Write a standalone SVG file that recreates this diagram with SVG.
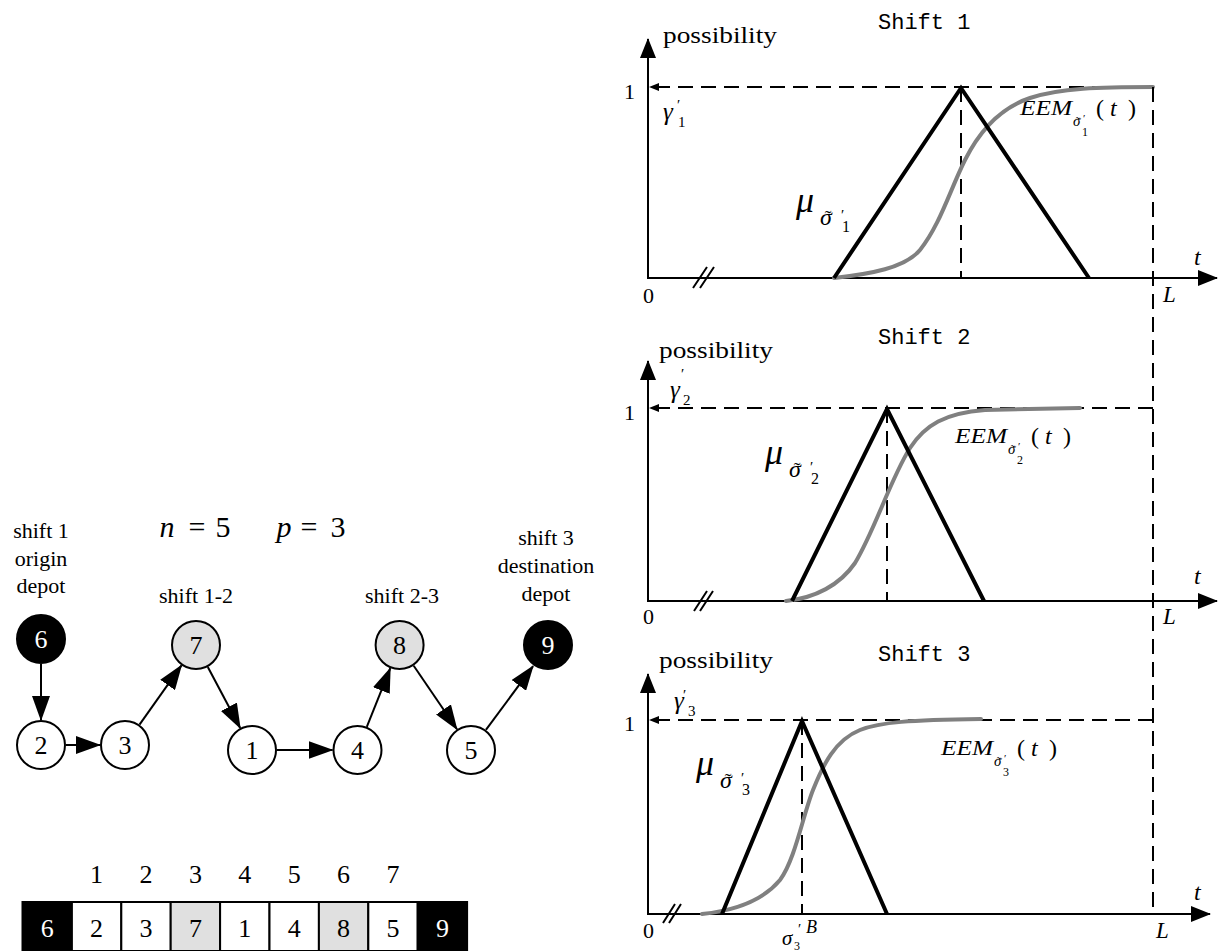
<svg xmlns="http://www.w3.org/2000/svg" width="1219" height="951" viewBox="0 0 1219 951">
<defs>
<style>
.axis{stroke:#000;stroke-width:2;fill:none}
.dash{stroke:#000;stroke-width:2;fill:none;stroke-dasharray:15 8}
.tri{stroke:#000;stroke-width:4;fill:none;stroke-linejoin:miter}
.eem{stroke:#808080;stroke-width:4;fill:none;stroke-linecap:round}
.edge{stroke:#000;stroke-width:2;fill:none}
.node{stroke:#000;stroke-width:2}
.cell{stroke:#000;stroke-width:2}
</style>
<marker id="ga" markerUnits="userSpaceOnUse" markerWidth="25" markerHeight="18" refX="24" refY="9" orient="auto"><path d="M0,0 L25,9 L0,18 z" fill="#000"/></marker>
<marker id="aa" markerUnits="userSpaceOnUse" markerWidth="20" markerHeight="16" refX="19" refY="8" orient="auto"><path d="M0,0 L20,8 L0,16 z" fill="#000"/></marker>
<marker id="sa" markerUnits="userSpaceOnUse" markerWidth="10" markerHeight="8" refX="9" refY="4" orient="auto"><path d="M0,0 L10,4 L0,8 z" fill="#000"/></marker>
</defs>
<rect width="1219" height="951" fill="#fff"/>

<g font-family="Liberation Serif, DejaVu Serif, Times New Roman, serif" fill="#000">

<!-- Plot 1 -->
<g id="plot1">
<text font-family="Liberation Mono, DejaVu Sans Mono, monospace" x="878" y="29" font-size="22">Shift 1</text>
<text x="663" y="43" font-size="24" textLength="114" lengthAdjust="spacingAndGlyphs">possibility</text>
<text x="624" y="99" font-size="22">1</text>
<text x="643" y="303" font-size="22">0</text>
<text font-style="italic" x="1194" y="265" font-size="24">t</text>
<text font-style="italic" x="1163" y="302" font-size="23">L</text>
<text font-style="italic" x="663" y="120" font-size="25">γ</text>
<text x="677" y="110" font-size="15">′</text>
<text x="678" y="127" font-size="15">1</text>
<text font-style="italic" x="796" y="212" font-size="36">μ</text>
<text font-style="italic" x="820" y="225" font-size="24">σ</text>
<text x="828" y="225" font-size="20" text-anchor="middle">˜</text>
<text x="841" y="220" font-size="15">′</text>
<text x="842" y="232" font-size="16">1</text>
<text font-style="italic" x="1020" y="115" font-size="21" textLength="52" lengthAdjust="spacingAndGlyphs">EEM</text>
<text font-style="italic" x="1073" y="126" font-size="15">σ</text>
<text x="1078" y="126" font-size="13" text-anchor="middle">˜</text>
<text x="1083" y="122" font-size="11">′</text>
<text x="1082" y="136" font-size="12">1</text>
<text x="1096" y="116" font-size="24">(</text>
<text font-style="italic" x="1110" y="116" font-size="24">t</text>
<text x="1128" y="116" font-size="24">)</text>
<line class="axis" x1="648" y1="279" x2="648" y2="39" marker-end="url(#aa)"/>
<line class="axis" x1="647" y1="278" x2="1217" y2="278" marker-end="url(#aa)"/>
<path class="axis" d="M693,288 L707,267 M700,288 L714,267"/>
<line class="dash" x1="1153" y1="87" x2="650" y2="87" marker-end="url(#sa)"/>
<line class="dash" x1="961" y1="87" x2="961" y2="278"/>
<path class="eem" d="M834,278 C870,274 905,268 920,250 C940,225 950,190 965,160 C980,130 1000,108 1030,98 C1060,88 1100,87 1153,87"/>
<path class="tri" d="M834,278 L961,88 L1089,278"/>
</g>

<!-- Plot 2 -->
<g id="plot2">
<text font-family="Liberation Mono, DejaVu Sans Mono, monospace" x="878" y="344" font-size="22">Shift 2</text>
<text x="659" y="358" font-size="24" textLength="114" lengthAdjust="spacingAndGlyphs">possibility</text>
<text x="624" y="420" font-size="22">1</text>
<text x="643" y="624" font-size="22">0</text>
<text font-style="italic" x="1194" y="584" font-size="24">t</text>
<text font-style="italic" x="1163" y="624" font-size="23">L</text>
<text font-style="italic" x="670" y="398" font-size="25">γ</text>
<text x="681" y="379" font-size="15">′</text>
<text x="683" y="405" font-size="15">2</text>
<text font-style="italic" x="765" y="464" font-size="36">μ</text>
<text font-style="italic" x="789" y="477" font-size="24">σ</text>
<text x="797" y="477" font-size="20" text-anchor="middle">˜</text>
<text x="810" y="472" font-size="15">′</text>
<text x="811" y="484" font-size="16">2</text>
<text font-style="italic" x="955" y="443" font-size="21" textLength="52" lengthAdjust="spacingAndGlyphs">EEM</text>
<text font-style="italic" x="1008" y="454" font-size="15">σ</text>
<text x="1013" y="454" font-size="13" text-anchor="middle">˜</text>
<text x="1018" y="450" font-size="11">′</text>
<text x="1017" y="464" font-size="12">2</text>
<text x="1031" y="444" font-size="24">(</text>
<text font-style="italic" x="1045" y="444" font-size="24">t</text>
<text x="1063" y="444" font-size="24">)</text>
<line class="axis" x1="648" y1="602" x2="648" y2="361" marker-end="url(#aa)"/>
<line class="axis" x1="647" y1="601" x2="1217" y2="601" marker-end="url(#aa)"/>
<path class="axis" d="M694,611 L707,591 M700,611 L713,591"/>
<line class="dash" x1="1153" y1="408" x2="650" y2="408" marker-end="url(#sa)"/>
<line class="dash" x1="887" y1="408" x2="887" y2="601"/>
<path class="eem" d="M786,601 C815,598 840,585 855,563 C875,530 890,480 910,448 C925,425 945,413 985,410 L1080,408"/>
<path class="tri" d="M792,601 L887,409 L984,601"/>
</g>

<!-- Plot 3 -->
<g id="plot3">
<text font-family="Liberation Mono, DejaVu Sans Mono, monospace" x="878" y="661" font-size="22">Shift 3</text>
<text x="659" y="668" font-size="24" textLength="114" lengthAdjust="spacingAndGlyphs">possibility</text>
<text x="624" y="731" font-size="22">1</text>
<text x="643" y="938" font-size="22">0</text>
<text font-style="italic" x="1194" y="900" font-size="24">t</text>
<text font-style="italic" x="1156" y="938" font-size="23">L</text>
<text font-style="italic" x="674" y="709" font-size="25">γ</text>
<text x="683" y="700" font-size="15">′</text>
<text x="688" y="716" font-size="15">3</text>
<text font-style="italic" x="696" y="775" font-size="36">μ</text>
<text font-style="italic" x="720" y="788" font-size="24">σ</text>
<text x="728" y="788" font-size="20" text-anchor="middle">˜</text>
<text x="741" y="783" font-size="15">′</text>
<text x="742" y="795" font-size="16">3</text>
<text font-style="italic" x="941" y="755" font-size="21" textLength="52" lengthAdjust="spacingAndGlyphs">EEM</text>
<text font-style="italic" x="994" y="766" font-size="15">σ</text>
<text x="999" y="766" font-size="13" text-anchor="middle">˜</text>
<text x="1004" y="762" font-size="11">′</text>
<text x="1003" y="776" font-size="12">3</text>
<text x="1017" y="756" font-size="24">(</text>
<text font-style="italic" x="1031" y="756" font-size="24">t</text>
<text x="1049" y="756" font-size="24">)</text>
<text font-style="italic" x="782" y="945" font-size="21">σ</text>
<text x="794" y="950" font-size="12">3</text>
<text x="798" y="934" font-size="15">′</text>
<text font-style="italic" x="806" y="933" font-size="18">B</text>
<line class="axis" x1="648" y1="915" x2="648" y2="674" marker-end="url(#aa)"/>
<line class="axis" x1="647" y1="914" x2="1210" y2="914" marker-end="url(#aa)"/>
<path class="axis" d="M663,923 L675,904 M669,923 L681,904"/>
<line class="dash" x1="1153" y1="720" x2="650" y2="720" marker-end="url(#sa)"/>
<line class="dash" x1="802" y1="720" x2="802" y2="914"/>
<path class="eem" d="M702,914 C740,910 765,898 780,880 C795,860 803,815 813,790 C823,765 835,740 860,730 C880,722 910,720 981,719"/>
<path class="tri" d="M722,914 L802,721 L887,914"/>
</g>

<!-- shared L line -->
<g id="limit">
<line class="dash" x1="1153" y1="87" x2="1153" y2="914"/>
</g>

<!-- graph labels -->
<g id="labels" font-size="22" text-anchor="middle">
<text x="41" y="538">shift 1</text>
<text x="41" y="566">origin</text>
<text x="41" y="593">depot</text>
<text x="546" y="545">shift 3</text>
<text x="546" y="573">destination</text>
<text x="546" y="601">depot</text>
<text x="196" y="603">shift 1-2</text>
<text x="402" y="603">shift 2-3</text>
<text font-size="30" x="167" y="537" font-style="italic">n</text>
<text font-size="30" x="197" y="537">=</text>
<text font-size="30" x="223" y="537">5</text>
<text font-size="30" x="284" y="537" font-style="italic">p</text>
<text font-size="30" x="309" y="537">=</text>
<text font-size="30" x="338" y="537">3</text>
</g>

<!-- connectors -->
<g id="connectors">
<line class="edge" x1="41" y1="664" x2="41" y2="720" marker-end="url(#ga)"/>
<line class="edge" x1="66" y1="745" x2="100" y2="745" marker-end="url(#ga)"/>
<line class="edge" x1="139.5" y1="724.6" x2="181.5" y2="665.4" marker-end="url(#ga)"/>
<line class="edge" x1="207.8" y1="667" x2="240.2" y2="728" marker-end="url(#ga)"/>
<line class="edge" x1="277" y1="750" x2="332.5" y2="750" marker-end="url(#ga)"/>
<line class="edge" x1="366.8" y1="726.8" x2="390.3" y2="668.2" marker-end="url(#ga)"/>
<line class="edge" x1="413.7" y1="665.7" x2="457" y2="729.3" marker-end="url(#ga)"/>
<line class="edge" x1="485.9" y1="729.9" x2="533.1" y2="666.1" marker-end="url(#ga)"/>
</g>

<!-- nodes -->
<g font-size="26" text-anchor="middle">
<g id="node6"><circle class="node" cx="41" cy="639" r="24" fill="#000"/><text x="41" y="648" fill="#fff">6</text></g>
<g id="node2"><circle class="node" cx="41" cy="745" r="24" fill="#fff"/><text x="41" y="754">2</text></g>
<g id="node3"><circle class="node" cx="125" cy="745" r="24" fill="#fff"/><text x="125" y="754">3</text></g>
<g id="node7"><circle class="node" cx="196" cy="645" r="24" fill="#e0e0e0"/><text x="196" y="654">7</text></g>
<g id="node1"><circle class="node" cx="252" cy="750" r="24" fill="#fff"/><text x="252" y="759">1</text></g>
<g id="node4"><circle class="node" cx="357.5" cy="750" r="24" fill="#fff"/><text x="357.5" y="759">4</text></g>
<g id="node8"><circle class="node" cx="399.6" cy="645" r="24" fill="#e0e0e0"/><text x="399.6" y="654">8</text></g>
<g id="node5"><circle class="node" cx="471" cy="750" r="24" fill="#fff"/><text x="471" y="759">5</text></g>
<g id="node9"><circle class="node" cx="548" cy="645" r="24" fill="#000"/><text x="548" y="654" fill="#fff">9</text></g>
</g>

<!-- array -->
<g id="array" font-size="26" text-anchor="middle">
<rect class="cell" x="22.5" y="902" width="49.4" height="49" fill="#000"/>
<rect class="cell" x="71.9" y="902" width="49.4" height="49" fill="#fff"/>
<rect class="cell" x="121.3" y="902" width="49.4" height="49" fill="#fff"/>
<rect class="cell" x="170.7" y="902" width="49.4" height="49" fill="#e0e0e0"/>
<rect class="cell" x="220.1" y="902" width="49.4" height="49" fill="#fff"/>
<rect class="cell" x="269.5" y="902" width="49.4" height="49" fill="#fff"/>
<rect class="cell" x="318.9" y="902" width="49.4" height="49" fill="#e0e0e0"/>
<rect class="cell" x="368.3" y="902" width="49.4" height="49" fill="#fff"/>
<rect class="cell" x="417.7" y="902" width="49.4" height="49" fill="#000"/>
<text x="47.2" y="937" fill="#fff">6</text>
<text x="96.6" y="937">2</text>
<text x="146" y="937">3</text>
<text x="195.4" y="937">7</text>
<text x="244.8" y="937">1</text>
<text x="294.2" y="937">4</text>
<text x="343.6" y="937">8</text>
<text x="393" y="937">5</text>
<text x="442.4" y="937" fill="#fff">9</text>
<text x="96.6" y="883">1</text>
<text x="146" y="883">2</text>
<text x="195.4" y="883">3</text>
<text x="244.8" y="883">4</text>
<text x="294.2" y="883">5</text>
<text x="343.6" y="883">6</text>
<text x="393" y="883">7</text>
</g>

</g>
</svg>
